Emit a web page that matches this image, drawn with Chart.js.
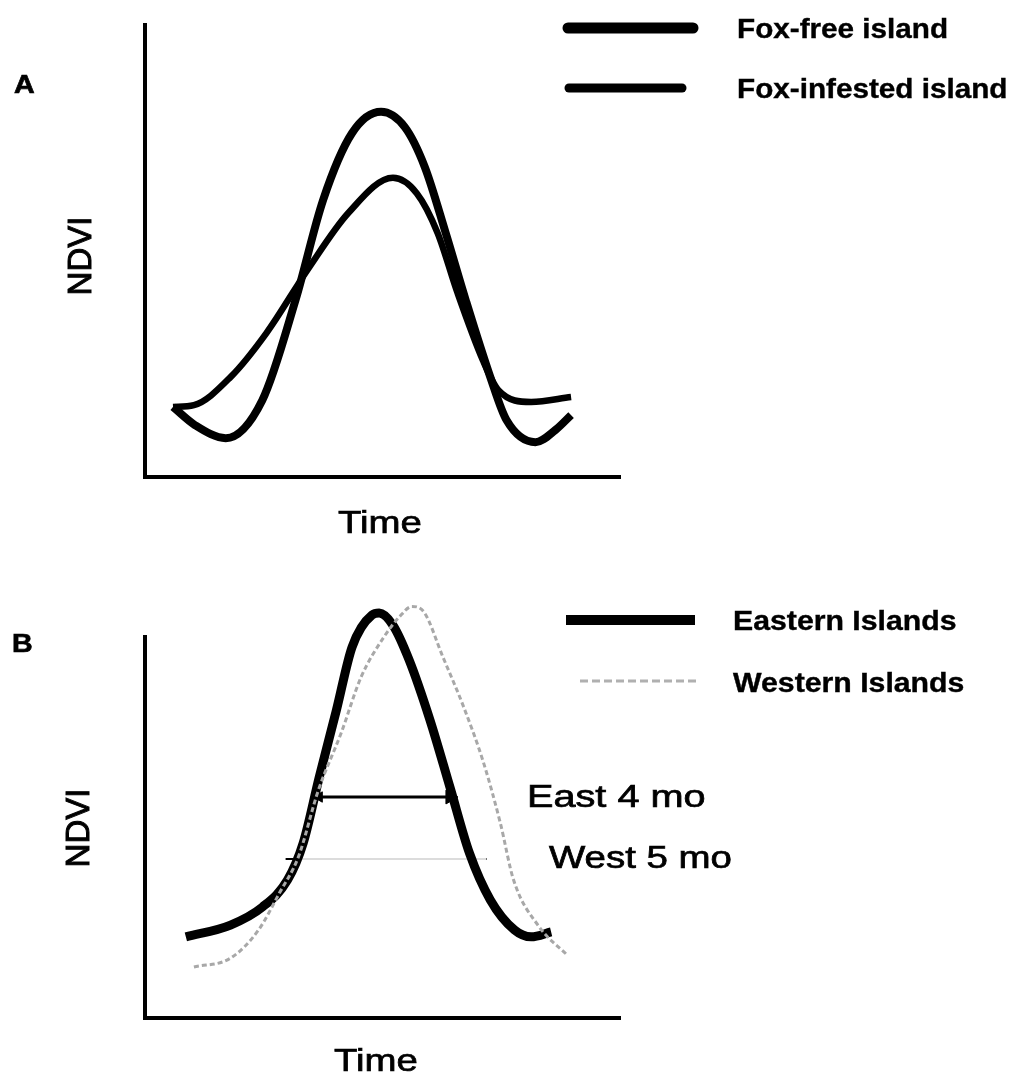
<!DOCTYPE html>
<html>
<head>
<meta charset="utf-8">
<script src="https://cdn.jsdelivr.net/npm/chart.js@4.4.1/dist/chart.umd.min.js"></script>
<style>
  html, body { margin: 0; padding: 0; background: #fff; }
  #wrap { position: relative; width: 1018px; height: 1077px; }
  canvas { position: absolute; left: 0; top: 0; }
</style>
</head>
<body>
<div id="wrap">
  <canvas id="chartA" width="1018" height="1077"></canvas>
  <canvas id="chartB" width="1018" height="1077"></canvas>
</div>
<script>
// panel A : time (0-100) / NDVI (0-100)
const timeFree = [5.9, 10.5, 17.0, 24.7, 31.7, 37.5, 43.6, 49.7, 54.7, 58.9, 63.3, 67.5, 72.7, 76.1, 82.2, 86.4, 89.7];
const ndviFree = [15.5, 11.5, 8.6, 17.0, 39.2, 61.3, 76.1, 80.8, 77.4, 68.6, 54.0, 39.2, 22.1, 12.6, 7.7, 10.4, 13.7];

const timeInfested = [5.9, 10.3, 18.0, 25.6, 34.2, 42.8, 52.2, 57.2, 61.6, 65.8, 71.1, 74.4, 81.3, 89.7];
const ndviInfested = [15.5, 15.9, 22.1, 31.9, 45.8, 58.4, 66.2, 62.8, 54.0, 40.7, 25.9, 19.2, 16.6, 17.7];

// panel B
const timeEast = [8.6, 18.0, 24.7, 30.0, 33.3, 36.7, 40.3, 43.6, 47.8, 49.3, 52.2, 55.6, 60.0, 64.2, 68.3, 72.7, 77.8, 81.3, 85.5];
const ndviEast = [21.3, 24.4, 29.1, 36.2, 45.9, 63.3, 80.8, 97.4, 105.8, 106.3, 103.1, 94.0, 78.2, 60.6, 43.3, 31.0, 23.1, 21.3, 22.6];

const timeWest = [10.3, 18.0, 23.9, 28.3, 32.3, 36.5, 41.3, 45.5, 50.3, 53.5, 56.2, 58.7, 62.7, 67.1, 71.3, 74.8, 77.6, 83.0, 88.9];
const ndviWest = [13.4, 15.7, 23.1, 32.8, 42.3, 59.8, 74.8, 89.5, 100.0, 105.2, 108.0, 106.6, 94.8, 81.6, 66.9, 51.2, 36.2, 23.9, 16.5];

// season length markers
const eastSpan = [36.7, 64.2];
const eastLevel = 58.0;
const westSpan = [32.1, 71.9];
const westLevel = 41.7;
const westTicks = [29.6, 32.8, null, 68.6, 72.0];

const seriesNamesA = ['Fox-free island', 'Fox-infested island'];
const seriesNamesB = ['Eastern Islands', 'Western Islands'];

const zip = (xs, ys) => xs.map((x, i) => ({ x: x, y: ys[i] }));

const FONT = '"Liberation Sans", Arial, sans-serif';

// draws text (optionally rotated / stretched) and the hand-made legend
const textPlugin = {
  id: 'texts',
  afterDraw(chart, args, opts) {
    const ctx = chart.ctx;
    (opts.legend || []).forEach(l => {
      ctx.save();
      ctx.strokeStyle = l.color;
      ctx.lineWidth = l.width;
      ctx.lineCap = l.cap || 'round';
      if (l.dash) ctx.setLineDash(l.dash);
      ctx.beginPath();
      ctx.moveTo(l.x1, l.y);
      ctx.lineTo(l.x2, l.y);
      ctx.stroke();
      ctx.restore();
    });
    (opts.items || []).forEach(t => {
      ctx.save();
      ctx.font = t.font;
      ctx.fillStyle = '#000';
      ctx.strokeStyle = '#000';
      ctx.lineWidth = t.stroke || 0.7;
      ctx.textAlign = t.align || 'left';
      ctx.textBaseline = t.base || 'alphabetic';
      ctx.translate(t.x, t.y);
      if (t.rot) ctx.rotate(t.rot);
      ctx.scale(t.sx || 1, 1);
      ctx.fillText(t.text, 0, 0);
      ctx.strokeText(t.text, 0, 0);
      ctx.restore();
    });
  }
};

const axisOpts = {
  type: 'linear',
  min: 0,
  max: 100,
  grid: { display: false, drawTicks: false },
  ticks: { display: false },
  border: { display: true, color: '#000', width: 4 }
};

const baseOptions = (padding, texts) => ({
  responsive: false,
  animation: false,
  layout: { padding: padding },
  scales: { x: { ...axisOpts }, y: { ...axisOpts } },
  elements: { point: { radius: 0 } },
  plugins: {
    legend: { display: false },
    tooltip: { enabled: false },
    texts: texts
  }
});

const curve = (label, data, color, width, extra) => Object.assign({
  label: label,
  data: data,
  borderColor: color,
  borderWidth: width,
  cubicInterpolationMode: 'monotone',
  pointRadius: 0,
  fill: false,
  clip: false
}, extra || {});

// ---- panel A
new Chart(document.getElementById('chartA'), {
  type: 'line',
  data: {
    datasets: [
      curve(seriesNamesA[1], zip(timeInfested, ndviInfested), '#000', 6.5),
      curve(seriesNamesA[0], zip(timeFree, ndviFree), '#000', 8)
    ]
  },
  options: baseOptions({ left: 145, top: 25, right: 398, bottom: 600 }, {
    legend: [
      { x1: 568, x2: 693, y: 28, width: 11, color: '#000' },
      { x1: 569, x2: 682, y: 88, width: 9, color: '#000' }
    ],
    items: [
      { text: 'A', x: 14, y: 93, font: 'bold 26px ' + FONT, sx: 1.1 },
      { text: 'NDVI', x: 82, y: 256, rot: -Math.PI / 2, align: 'center', base: 'middle', font: '33px ' + FONT, stroke: 1 },
      { text: 'Time', x: 380, y: 533, align: 'center', sx: 1.2, font: '32px ' + FONT },
      { text: seriesNamesA[0], x: 737, y: 38, sx: 1.06, font: 'bold 28px ' + FONT, stroke: 0.4 },
      { text: seriesNamesA[1], x: 737, y: 98, sx: 1.06, font: 'bold 28px ' + FONT, stroke: 0.4 }
    ]
  }),
  plugins: [textPlugin]
});

// ---- panel B
new Chart(document.getElementById('chartB'), {
  type: 'line',
  data: {
    datasets: [
      curve(seriesNamesB[1], zip(timeWest, ndviWest), '#a8a8a8', 3, { borderDash: [5, 3] }),
      curve(seriesNamesB[0], zip(timeEast, ndviEast), '#000', 9),
      {
        label: 'West 5 mo',
        data: zip(westSpan, [westLevel, westLevel]),
        borderColor: '#dcdcdc',
        borderWidth: 2,
        pointRadius: 0,
        clip: false
      },
      {
        label: 'West ticks',
        data: westTicks.map(x => ({ x: x === null ? 50 : x, y: x === null ? null : westLevel })),
        borderColor: '#000',
        borderWidth: 2,
        pointRadius: 0,
        spanGaps: false,
        clip: false
      },
      {
        label: 'East 4 mo',
        data: zip(eastSpan, [eastLevel, eastLevel]),
        borderColor: '#000',
        borderWidth: 3,
        pointStyle: 'triangle',
        pointRadius: [6, 8],
        pointRotation: [-90, 90],
        pointBackgroundColor: '#000',
        pointBorderColor: '#000',
        pointBorderWidth: 1,
        clip: false
      }
    ]
  },
  options: baseOptions({ left: 145, top: 637, right: 398, bottom: 59 }, {
    legend: [
      { x1: 566, x2: 695, y: 620, width: 10, color: '#000', cap: 'butt' },
      { x1: 580, x2: 697, y: 681, width: 3, color: '#b0b0b0', dash: [8, 4], cap: 'butt' }
    ],
    items: [
      { text: 'B', x: 12, y: 652, font: 'bold 26px ' + FONT, sx: 1.1 },
      { text: 'NDVI', x: 80, y: 828, rot: -Math.PI / 2, align: 'center', base: 'middle', font: '33px ' + FONT, stroke: 1 },
      { text: 'Time', x: 376, y: 1071, align: 'center', sx: 1.2, font: '32px ' + FONT },
      { text: seriesNamesB[0], x: 733, y: 630, sx: 1.08, font: 'bold 28px ' + FONT, stroke: 0.4 },
      { text: seriesNamesB[1], x: 733, y: 692, sx: 1.08, font: 'bold 28px ' + FONT, stroke: 0.4 },
      { text: 'East 4 mo', x: 527, y: 807, sx: 1.28, font: '31px ' + FONT },
      { text: 'West 5 mo', x: 549, y: 868, sx: 1.24, font: '31px ' + FONT }
    ]
  }),
  plugins: [textPlugin]
});
</script>
</body>
</html>
